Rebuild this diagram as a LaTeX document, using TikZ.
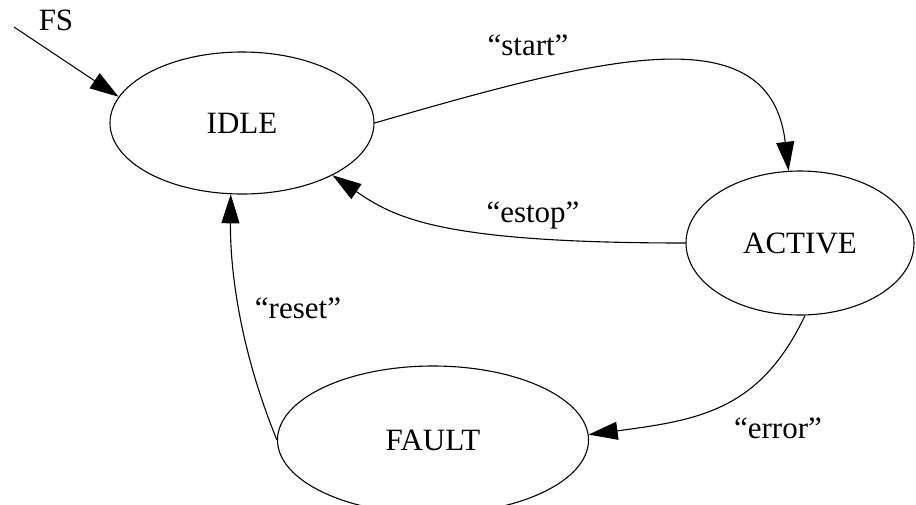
\documentclass[tikz,border=0pt]{standalone}
\usepackage{fontspec}
\setmainfont{Liberation Serif}
\usetikzlibrary{arrows.meta,shapes.geometric}

\begin{document}
\begin{tikzpicture}[x=1pt,y=-1pt,line width=1.1pt,
    lbl/.style={font=\fontsize{31}{37}\selectfont},
    statebox/.style={draw,ellipse,inner sep=0pt,font=\fontsize{31}{37}\selectfont},
    arr/.style={-{Triangle[length=29pt,width=18pt]}}]
  \useasboundingbox (0,0) rectangle (916,504);
  % states
  \node[statebox,minimum width=264pt,minimum height=142pt] (idle) at (242,123) {IDLE};
  \node[statebox,minimum width=228pt,minimum height=144pt] (active) at (800,243) {ACTIVE};
  \node[statebox,minimum width=311pt,minimum height=148pt] (fault) at (433,440) {FAULT};
  % initial
  \coordinate (fs) at (14,27);
  \node[lbl] (fslbl) at (56,20) {FS};
  \draw[arr] (fs) -- (idle.168);
  % transitions
  \draw[arr] (idle.east) .. controls (600,58) and (770,12) .. (active.99);
  \node[lbl] (startlbl) at (528,45) {“start”};
  \draw[arr] (active.west) .. controls (440,243) and (395,218) .. (idle.-30);
  \node[lbl] (estoplbl) at (533,215) {“estop”};
  \draw[arr] (active.-86) .. controls (760,410) and (700,420) .. (fault.2);
  \node[lbl] (errorlbl) at (778,428) {“error”};
  \draw[arr] (fault.west) .. controls (240,350) and (230,270) .. (idle.-99);
  \node[lbl] (resetlbl) at (298,308) {“reset”};
\end{tikzpicture}
\end{document}
